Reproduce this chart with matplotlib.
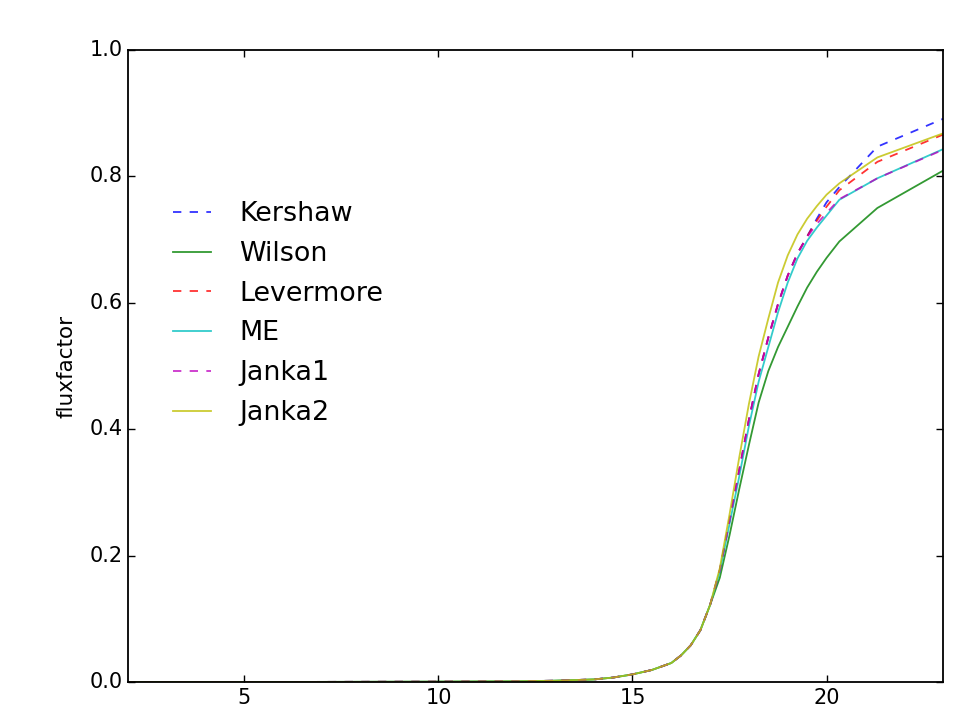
import matplotlib
matplotlib.use("Agg")
import matplotlib.pyplot as plt

plt.style.use('classic')

# radius grid (shared by all closures)
x = [2, 6, 10, 12, 13, 14, 14.5, 15, 15.5, 16, 16.25, 16.5, 16.75, 17,
     17.25, 17.5, 17.75, 18, 18.25, 18.5, 18.75, 19, 19.25, 19.5, 19.75,
     20, 20.33, 21.31, 23]

# common low part, identical for all closures
low = [0.0, 0.0, 0.0005, 0.001, 0.002, 0.004, 0.007, 0.012, 0.019, 0.030,
       0.042, 0.058, 0.082, 0.122]

kershaw = low + [0.177, 0.255, 0.335, 0.415, 0.487, 0.545, 0.598, 0.643,
                 0.678, 0.705, 0.733, 0.759, 0.783, 0.847, 0.891]
wilson = low + [0.165, 0.232, 0.305, 0.375, 0.442, 0.492, 0.53, 0.562,
                0.594, 0.624, 0.649, 0.671, 0.697, 0.750, 0.809]
levermore = low + [0.177, 0.255, 0.335, 0.415, 0.487, 0.545, 0.598, 0.643,
                   0.678, 0.705, 0.730, 0.752, 0.778, 0.823, 0.866]
me = low + [0.175, 0.25, 0.325, 0.405, 0.475, 0.53, 0.585, 0.632,
            0.670, 0.698, 0.719, 0.738, 0.763, 0.797, 0.843]
janka1 = low + [0.177, 0.255, 0.335, 0.415, 0.487, 0.545, 0.598, 0.643,
                0.678, 0.704, 0.725, 0.742, 0.764, 0.797, 0.842]
janka2 = low + [0.18, 0.265, 0.355, 0.44, 0.515, 0.575, 0.632, 0.675,
                0.708, 0.733, 0.753, 0.771, 0.789, 0.830, 0.868]

fig = plt.figure(figsize=(9.79, 7.19), dpi=100)
ax = fig.add_axes([0.1307, 0.0515, 0.8325, 0.879])

lw = 1.3
ax.plot(x, kershaw, 'b--', label='Kershaw', alpha=0.8, lw=lw)
ax.plot(x, wilson, 'g-', label='Wilson', alpha=0.8, lw=lw)
ax.plot(x, levermore, 'r--', label='Levermore', alpha=0.8, lw=lw)
ax.plot(x, me, 'c-', label='ME', alpha=0.8, lw=lw)
ax.plot(x, janka1, 'm--', label='Janka1', alpha=0.8, lw=lw)
ax.plot(x, janka2, 'y-', label='Janka2', alpha=0.8, lw=lw)

ax.set_xlim(2, 23)
ax.set_ylim(0, 1)
ax.set_xticks([5, 10, 15, 20])
ax.set_yticks([0.0, 0.2, 0.4, 0.6, 0.8, 1.0])
ax.tick_params(labelsize=15, length=5, width=1)
for s in ax.spines.values():
    s.set_linewidth(1.3)
ax.set_ylabel('fluxfactor', fontsize=15.5, labelpad=9)

ax.legend(loc='upper left', bbox_to_anchor=(0.015, 0.799), frameon=False,
          fontsize=19.4, handlelength=2.04, handletextpad=0.75,
          labelspacing=0.51)

fig.savefig('out.png', dpi=100)
